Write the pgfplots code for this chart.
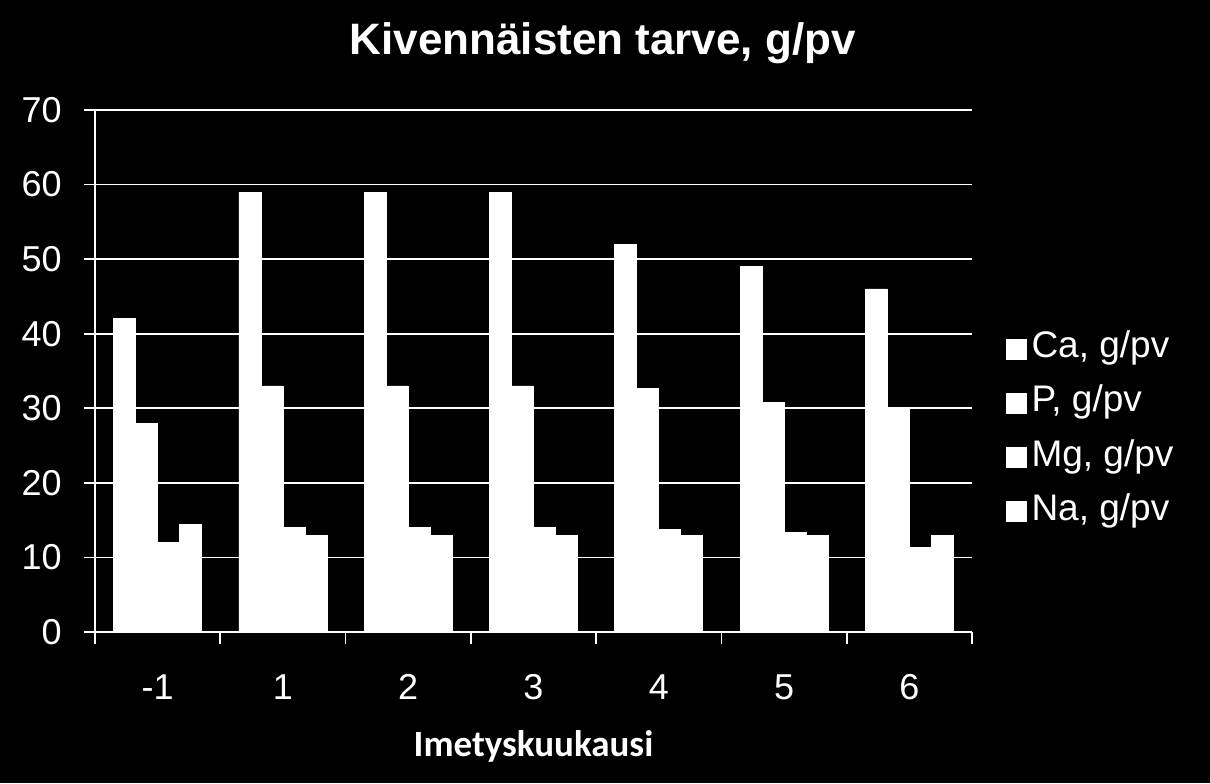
\documentclass[border=0pt]{standalone}
\usepackage{fontspec}
\setmainfont{Liberation Sans}
\newfontfamily\calibri{Carlito}
\usepackage{pgfplots}
\pgfplotsset{compat=1.18}
\begin{document}
\begin{tikzpicture}
% black page, 1 px = 0.5pt, axis origin at (95px, 632px from top)
\fill[black] (-47.5pt,-75.5pt) rectangle (557.5pt,316pt);
\begin{axis}[
    at={(0pt,0pt)}, anchor=south west,
    scale only axis, width=438.5pt, height=261pt,
    xmin=-0.5, xmax=6.5, ymin=0, ymax=70,
    ytick={0,10,...,70},
    xtick={0,...,6},
    xticklabels={-1,1,2,3,4,5,6},
    minor xtick={-0.5,0.5,...,6.5},
    axis x line*=bottom, axis y line*=left,
    axis line style={white, line width=0.8pt, -},
    ymajorgrids, grid style={white, line width=0.8pt},
    tick align=outside,
    major tick length=5.5pt, minor tick length=6pt,
    tick style={white, line width=0.8pt},
    major x tick style={draw=none},
    ybar=0pt, bar width=11pt,
    /pgf/number format/assume math mode=true,
    ticklabel style={text=white, font=\fontsize{18}{20}\selectfont, inner sep=0pt},
    yticklabel style={anchor=east, xshift=-11pt},
    xticklabel style={anchor=base, yshift=-28pt},
    title={Kivennäisten tarve, g/pv},
    title style={at={(0.579,1)}, anchor=base, yshift=22pt, text=white,
        font=\bfseries\fontsize{22}{26}\selectfont},
    xlabel={Imetyskuukausi},
    xlabel style={at={(0.5,0)}, anchor=base, yshift=-62pt, text=white,
        font=\calibri\bfseries\fontsize{18.5}{22}\selectfont},
    legend style={at={(1.038,0.387)}, anchor=west, draw=none, fill=none,
        text=white, inner sep=0pt, row sep=5pt,
        font=\fontsize{18.5}{20}\selectfont,
        nodes={text height=13pt, text depth=4pt, inner sep=2.5pt}},
    legend cell align=left,
]
\addplot[fill=white, draw=white, line width=0.4pt,
    legend image code/.code={\fill[white] (0pt,-5pt) rectangle (10pt,5pt);}]
    coordinates {(0,42) (1,59) (2,59) (3,59) (4,52) (5,49) (6,46)};
\addlegendentry{Ca, g/pv}
\addplot[fill=white, draw=white, line width=0.4pt,
    legend image code/.code={\fill[white] (0pt,-5pt) rectangle (10pt,5pt);}]
    coordinates {(0,28) (1,33) (2,33) (3,33) (4,32.7) (5,30.8) (6,30)};
\addlegendentry{P, g/pv}
\addplot[fill=white, draw=white, line width=0.4pt,
    legend image code/.code={\fill[white] (0pt,-5pt) rectangle (10pt,5pt);}]
    coordinates {(0,12) (1,14) (2,14) (3,14) (4,13.7) (5,13.3) (6,11.3)};
\addlegendentry{Mg, g/pv}
\addplot[fill=white, draw=white, line width=0.4pt,
    legend image code/.code={\fill[white] (0pt,-5pt) rectangle (10pt,5pt);}]
    coordinates {(0,14.4) (1,13) (2,13) (3,13) (4,13) (5,13) (6,13)};
\addlegendentry{Na, g/pv}
\end{axis}
\end{tikzpicture}
\end{document}
